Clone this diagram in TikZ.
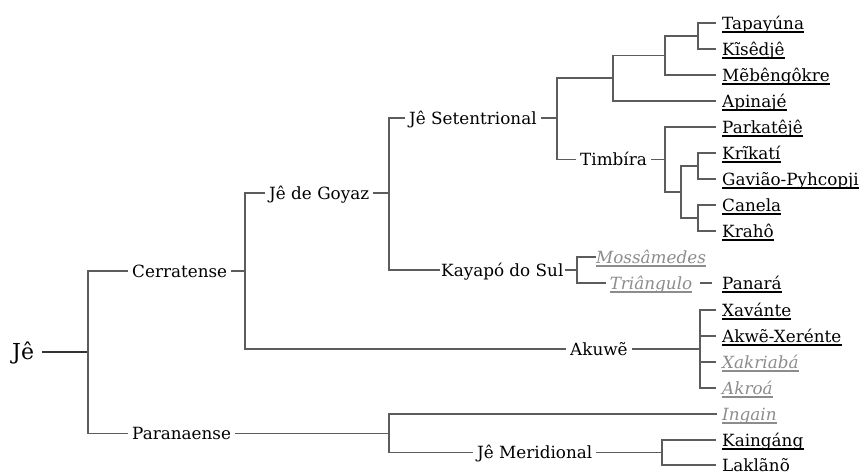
\documentclass[tikz,border=0pt]{standalone}
\usepackage{fontspec}
\setmainfont{DejaVu Serif}
\definecolor{line1}{rgb}{0.36,0.36,0.36}
\definecolor{line2}{rgb}{0.2,0.2,0.2}
\definecolor{gray1}{rgb}{0.55,0.55,0.55}
\tikzset{
  lang/.style={anchor=west, inner xsep=4pt, inner ysep=0pt, text height=12pt, text depth=0pt, font=\fontsize{16.8}{20}\selectfont},
  leaf/.style={lang, inner xsep=0pt},
  extinct/.style={leaf, text=gray1, font=\fontsize{16.8}{20}\selectfont\itshape},
  branch/.style={draw=line1, line width=1.3pt},
  uline/.style={line width=1.6pt}
}
\begin{document}
\begin{tikzpicture}[x=1pt, y=-1pt]
\useasboundingbox (0,0) rectangle (861,474);

\node[lang, inner xsep=8pt, text height=15pt, font=\fontsize{22}{26}\selectfont] (je) at (4,352) {Jê};
\node[lang] (cer) at (128,271) {Cerratense};
\node[lang] (par) at (128,433.5) {Paranaense};
\node[lang] (goy) at (265,193) {Jê de Goyaz};
\node[lang] (aku) at (566,349) {Akuwẽ};
\node[lang] (set) at (405,118) {Jê Setentrional};
\node[lang, inner xsep=1pt] (kay) at (440,270) {Kayapó do Sul};
\node[lang] (tim) at (576,159.5) {Timbíra};
\node[lang] (mer) at (473,452.5) {Jê Meridional};

\foreach \n/\y/\t in {tap/23/Tapayúna, kis/49/Kĩsêdjê, meb/75/Mẽbêngôkre, api/101/Apinajé,
  prk/127/Parkatêjê, kri/153/Krĩkatí, gav/179/Gavião-Pyhcopji, can/205/Canela, kra/231/Krahô,
  pan/283/Panará, xav/310/Xavánte, xer/336/Akwẽ-Xerénte, kai/440/Kaingáng, lak/465/Laklãnõ}
  \node[leaf] (\n) at (722,\y) {\t};
\foreach \n/\y/\t in {xak/362/Xakriabá, akr/388/Akroá, ing/414/Ingain}
  \node[extinct] (\n) at (722,\y) {\t};
\node[extinct, anchor=center] (mos) at (651,257) {Mossâmedes};
\node[extinct, anchor=center] (tri) at (651,283) {Triângulo};

\coordinate (jA) at (88,352);
\coordinate (jB) at (245,271);
\coordinate (jC) at (389,193);
\coordinate (jD) at (557,118);
\coordinate (jE) at (613,78);
\coordinate (jF) at (665,55.5);
\coordinate (jG) at (698,36);
\coordinate (jH) at (665,159.5);
\coordinate (jI) at (681,192);
\coordinate (jJ) at (698,166);
\coordinate (jK) at (698,218);
\coordinate (jL) at (389,433.5);
\coordinate (jM) at (662,452.5);
\coordinate (jN) at (700,349);
\coordinate (jO) at (577,270);

\draw[branch, draw=line2] (je.east) -- (jA);
\draw[branch] (jA) |- (cer.west);
\draw[branch] (jA) |- (par.west);
\draw[branch] (cer.east) -- (jB);
\draw[branch] (jB) |- (goy.west);
\draw[branch] (jB) |- (aku.west);
\draw[branch] (goy.east) -- (jC);
\draw[branch] (jC) |- (set.west);
\draw[branch] (jC) |- (kay.west);
\draw[branch] (set.east) -- (jD);
\draw[branch] (jD) |- (jE);
\draw[branch] (jD) |- (tim.west);
\draw[branch] (jE) |- (jF);
\draw[branch] (jF) |- (jG);
\draw[branch] (tim.east) -- (jH);
\draw[branch] (jH) |- (jI);
\draw[branch] (jI) |- (jJ);
\draw[branch] (jI) |- (jK);
\draw[branch] (kay.east) -- (jO);
\draw[branch] (jO) |- (mos.west);
\draw[branch, shorten >=4pt] (jO) |- (tri.west);
\draw[branch, shorten <=8pt, shorten >=10pt] (tri.east) -- (pan.west);
\draw[branch] (aku.east) -- (jN);
\draw[branch] (par.east) -- (jL);
\draw[branch, shorten >=5pt] (jL) |- (ing.west);
\draw[branch] (jL) |- (mer.west);
\draw[branch] (mer.east) -- (jM);

\foreach \j/\n in {jG/tap, jG/kis, jF/meb, jE/api, jH/prk, jJ/kri, jJ/gav, jK/can, jK/kra,
  jN/xav, jN/xer, jN/xak, jN/akr, jM/kai, jM/lak}
  \draw[branch, shorten >=6pt] (\j) |- (\n.west);

\foreach \n/\c in {tap/black, kis/black, meb/black, api/black, prk/black, kri/black, gav/black,
  can/black, kra/black, pan/black, xav/black, xer/black, kai/black,
  mos/gray1, tri/gray1, xak/gray1, akr/gray1, ing/gray1}
  \draw[uline, \c] ([yshift=-3pt]\n.base west) -- ([yshift=-3pt]\n.base east);
\end{tikzpicture}
\end{document}
